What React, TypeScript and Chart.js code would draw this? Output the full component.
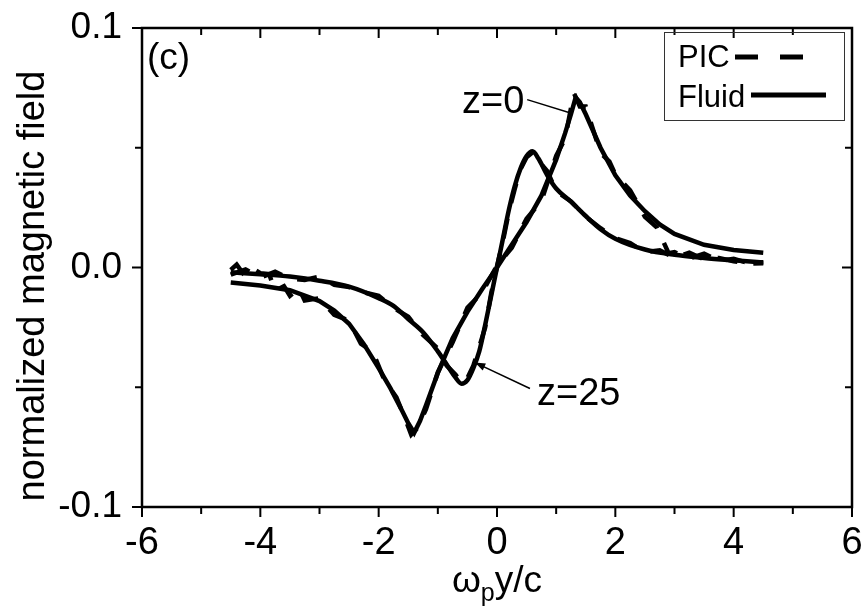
import React, { useEffect, useRef } from "react";
import { Chart, registerables } from "chart.js";

Chart.register(...registerables);

const FONT = '"Liberation Sans", Arial, Helvetica, sans-serif';

// ---- data ----
const FLUID_Z0_X = [-4.5, -4.0, -3.5, -3.0, -2.75, -2.5, -2.25, -2.0, -1.8, -1.6, -1.5, -1.4, -1.3, -1.2, -1.0, -0.75, -0.5, -0.25, 0, 0.25, 0.5, 0.75, 1.0, 1.15, 1.25, 1.33, 1.4, 1.5, 1.75, 2.0, 2.25, 2.5, 2.75, 3.0, 3.5, 4.0, 4.5];
const FLUID_Z0_Y = [-0.0063, -0.0075, -0.0095, -0.014, -0.018, -0.0235, -0.032, -0.042, -0.0505, -0.06, -0.065, -0.069, -0.064, -0.0575, -0.044, -0.0295, -0.0185, -0.009, 0, 0.0095, 0.019, 0.03, 0.045, 0.056, 0.064, 0.071, 0.069, 0.064, 0.05, 0.0385, 0.03, 0.0235, 0.018, 0.014, 0.0095, 0.0073, 0.0062];

const FLUID_Z25_X = [-4.5, -4.0, -3.5, -3.0, -2.5, -2.0, -1.75, -1.5, -1.25, -1.0, -0.85, -0.7, -0.6, -0.5, -0.4, -0.3, -0.2, -0.1, 0, 0.1, 0.2, 0.3, 0.4, 0.5, 0.6, 0.7, 0.85, 1.0, 1.25, 1.5, 1.75, 2.0, 2.5, 3.0, 3.5, 4.0, 4.5];
const FLUID_Z25_Y = [-0.002, -0.0028, -0.0038, -0.0055, -0.008, -0.0128, -0.016, -0.0215, -0.027, -0.035, -0.0405, -0.046, -0.0485, -0.047, -0.042, -0.035, -0.024, -0.012, 0, 0.012, 0.024, 0.034, 0.0415, 0.0465, 0.0485, 0.0455, 0.0385, 0.033, 0.0275, 0.0215, 0.016, 0.012, 0.0075, 0.0053, 0.004, 0.003, 0.0021];

const PIC_Z0_X = [-4.5, -4.4, -4.3, -4.2, -4.0, -3.85, -3.75, -3.6, -3.5, -3.35, -3.25, -3.0, -2.75, -2.5, -2.3, -2.1, -1.9, -1.7, -1.55, -1.45, -1.35, -1.2, -1.0, -0.75, -0.5, -0.25, 0, 0.25, 0.5, 0.75, 1.0, 1.15, 1.3, 1.4, 1.5, 1.75, 1.9, 2.0, 2.25, 2.5, 2.7, 2.9, 3.0, 3.25, 3.5, 3.75, 4.0, 4.25, 4.5];
const PIC_Z0_Y = [-0.001, 0.0012, -0.0022, 0.0006, -0.0024, -0.0028, -0.0098, -0.0078, -0.0118, -0.0086, -0.0138, -0.0128, -0.0198, -0.0222, -0.0318, -0.0352, -0.0472, -0.0542, -0.0632, -0.0698, -0.0672, -0.0592, -0.0438, -0.0312, -0.0168, -0.0104, 0.0008, 0.0082, 0.0204, 0.0278, 0.0466, 0.0538, 0.0728, 0.0672, 0.0672, 0.0478, 0.0442, 0.0388, 0.0322, 0.0212, 0.0168, 0.006, 0.0064, 0.0038, 0.0058, 0.0028, 0.0036, 0.0018, 0.0022];

const PIC_Z25_X = [-4.5, -4.25, -4.0, -3.75, -3.5, -3.25, -3.0, -2.75, -2.5, -2.25, -2.0, -1.75, -1.5, -1.25, -1.0, -0.85, -0.7, -0.6, -0.5, -0.4, -0.3, -0.2, -0.1, 0, 0.1, 0.2, 0.3, 0.4, 0.5, 0.6, 0.7, 0.85, 1.0, 1.25, 1.5, 1.75, 2.0, 2.25, 2.5, 2.75, 3.0, 3.25, 3.5, 3.75, 4.0, 4.25, 4.5];
const PIC_Z25_Y = [-0.003, -0.0008, -0.0042, -0.0018, -0.0046, -0.0052, -0.0038, -0.0072, -0.0082, -0.0104, -0.0118, -0.0168, -0.0206, -0.0282, -0.0338, -0.041, -0.0448, -0.0482, -0.0462, -0.041, -0.0332, -0.025, -0.011, 0.0005, 0.011, 0.0232, 0.0328, 0.0412, 0.046, 0.048, 0.0446, 0.0402, 0.0318, 0.0276, 0.0212, 0.0164, 0.0122, 0.0102, 0.0064, 0.0072, 0.004, 0.0062, 0.0034, 0.004, 0.0026, 0.0016, 0.0018];

const X_TICK_VALUES = [-6, -5, -4, -3, -2, -1, 0, 1, 2, 3, 4, 5, 6];
const Y_TICK_VALUES = [-0.1, -0.05, 0, 0.05, 0.1];
const LEGEND_LABELS = ["PIC", "Fluid"];
const PANEL_LABEL = "(c)";
const Y_TITLE = "normalized magnetic field";

const pts = (xs: number[], ys: number[]) => xs.map((x, i) => ({ x, y: ys[i] }));

const framePlugin = {
  id: "framePlugin",
  afterDraw(chart: any) {
    const { ctx, chartArea: a, scales } = chart;
    const xs = scales.x;
    const ys = scales.y;
    ctx.save();
    ctx.strokeStyle = "#000";
    ctx.fillStyle = "#000";
    ctx.lineWidth = 2.5;
    ctx.strokeRect(a.left, a.top, a.right - a.left, a.bottom - a.top);

    ctx.lineWidth = 2;
    X_TICK_VALUES.forEach((v) => {
      const px = xs.getPixelForValue(v);
      const major = v % 2 === 0;
      const len = major ? 10 : 7;
      ctx.beginPath();
      ctx.moveTo(px, a.bottom);
      ctx.lineTo(px, a.bottom + len);
      ctx.moveTo(px, a.top);
      ctx.lineTo(px, a.top + len);
      ctx.stroke();
    });
    Y_TICK_VALUES.forEach((v) => {
      const py = ys.getPixelForValue(v);
      const major = Math.abs(Math.round(v * 10) - v * 10) < 1e-6;
      const len = major ? 10 : 7;
      ctx.beginPath();
      ctx.moveTo(a.left, py);
      ctx.lineTo(a.left - len, py);
      ctx.moveTo(a.right, py);
      ctx.lineTo(a.right - len, py);
      ctx.stroke();
    });

    ctx.font = `37px ${FONT}`;
    ctx.textAlign = "left";
    ctx.textBaseline = "alphabetic";
    ctx.fillText(PANEL_LABEL, a.left + 5, a.top + 41);

    ctx.font = `38px ${FONT}`;
    ctx.fillText("z=0", xs.getPixelForValue(-0.59), ys.getPixelForValue(0.0647));
    ctx.fillText("z=25", xs.getPixelForValue(0.676), ys.getPixelForValue(-0.0576));
    ctx.lineWidth = 1.5;
    ctx.beginPath();
    ctx.moveTo(xs.getPixelForValue(0.51), ys.getPixelForValue(0.0701));
    ctx.lineTo(xs.getPixelForValue(1.27), ys.getPixelForValue(0.0643));
    ctx.stroke();
    const ax0 = xs.getPixelForValue(0.557), ay0 = ys.getPixelForValue(-0.0505);
    const ax1 = xs.getPixelForValue(-0.372), ay1 = ys.getPixelForValue(-0.0397);
    ctx.beginPath();
    ctx.moveTo(ax0, ay0);
    ctx.lineTo(ax1, ay1);
    ctx.stroke();
    const ang = Math.atan2(ay1 - ay0, ax1 - ax0);
    ctx.beginPath();
    ctx.moveTo(ax1, ay1);
    ctx.lineTo(ax1 - 11 * Math.cos(ang - 0.35), ay1 - 11 * Math.sin(ang - 0.35));
    ctx.lineTo(ax1 - 11 * Math.cos(ang + 0.35), ay1 - 11 * Math.sin(ang + 0.35));
    ctx.closePath();
    ctx.fill();

    const lx = a.right - 188, ly = a.top + 4;
    ctx.lineWidth = 1;
    ctx.strokeStyle = "#333";
    ctx.strokeRect(lx + 0.5, ly + 0.5, 180, 88);
    ctx.strokeStyle = "#000";
    ctx.font = `31px ${FONT}`;
    ctx.fillText(LEGEND_LABELS[0], lx + 14, ly + 35);
    ctx.fillText(LEGEND_LABELS[1], lx + 14, ly + 75);
    ctx.lineWidth = 5;
    ctx.setLineDash([23, 22]);
    ctx.beginPath();
    ctx.moveTo(lx + 71, ly + 25);
    ctx.lineTo(lx + 139, ly + 25);
    ctx.stroke();
    ctx.setLineDash([]);
    ctx.beginPath();
    ctx.moveTo(lx + 87, ly + 63);
    ctx.lineTo(lx + 162, ly + 63);
    ctx.stroke();

    ctx.save();
    ctx.font = `38px ${FONT}`;
    ctx.translate(44, 286);
    ctx.rotate(-Math.PI / 2);
    ctx.textAlign = "center";
    ctx.textBaseline = "alphabetic";
    ctx.fillText(Y_TITLE, 0, 0);
    ctx.restore();

    ctx.textAlign = "left";
    ctx.textBaseline = "alphabetic";
    const big = `37px ${FONT}`;
    const small = `25px ${FONT}`;
    ctx.font = big;
    const w1 = ctx.measureText("\u03c9").width;
    const w3 = ctx.measureText("y/c").width;
    ctx.font = small;
    const w2 = ctx.measureText("p").width;
    const total = w1 + w2 + w3;
    let sx = (a.left + a.right) / 2 - total / 2;
    const base = 592;
    ctx.font = big;
    ctx.fillText("\u03c9", sx, base);
    sx += w1;
    ctx.font = small;
    ctx.fillText("p", sx, base + 9);
    sx += w2;
    ctx.font = big;
    ctx.fillText("y/c", sx, base);
    ctx.restore();
  },
};

export default function App() {
  const ref = useRef<HTMLCanvasElement | null>(null);
  useEffect(() => {
    if (!ref.current) return;
    const common = { borderColor: "#000", pointRadius: 0, fill: false };
    const chart = new Chart(ref.current, {
      type: "line",
      data: {
        datasets: [
          { ...common, label: "PIC z=0", data: pts(PIC_Z0_X, PIC_Z0_Y), borderWidth: 4.5, borderDash: [20, 16], tension: 0 },
          { ...common, label: "PIC z=25", data: pts(PIC_Z25_X, PIC_Z25_Y), borderWidth: 4.5, borderDash: [20, 16], tension: 0 },
          { ...common, label: "Fluid z=0", data: pts(FLUID_Z0_X, FLUID_Z0_Y), borderWidth: 4.5, tension: 0 },
          { ...common, label: "Fluid z=25", data: pts(FLUID_Z25_X, FLUID_Z25_Y), borderWidth: 4.5, cubicInterpolationMode: "monotone" },
        ],
      },
      options: {
        animation: false,
        responsive: false,
        devicePixelRatio: 1,
        layout: { padding: { top: 28, right: 11, left: 0, bottom: 0 } },
        plugins: { legend: { display: false }, tooltip: { enabled: false } },
        scales: {
          x: {
            type: "linear",
            min: -6,
            max: 6,
            grid: { display: false },
            border: { display: false },
            ticks: {
              stepSize: 2,
              color: "#000",
              padding: 6,
              maxRotation: 0,
              font: { family: FONT, size: 38 },
            },
            afterFit: (s: any) => {
              s.height = 100;
              s.paddingLeft = 0;
              s.paddingRight = 0;
              s.paddingTop = 0;
              s.paddingBottom = 0;
            },
          },
          y: {
            type: "linear",
            min: -0.1,
            max: 0.1,
            grid: { display: false },
            border: { display: false },
            ticks: {
              stepSize: 0.1,
              color: "#000",
              padding: 12,
              font: { family: FONT, size: 37 },
              callback: (v: any) => Number(v).toFixed(1),
            },
            afterFit: (s: any) => {
              s.width = 142;
              s.paddingLeft = 0;
              s.paddingRight = 0;
              s.paddingTop = 0;
              s.paddingBottom = 0;
            },
          },
        },
      },
      plugins: [framePlugin],
    } as any);
    return () => chart.destroy();
  }, []);
  return (
    <div style={{ position: "fixed", left: 0, top: 0, width: 863, height: 607, background: "#fff" }}>
      <canvas ref={ref} width={863} height={607} />
    </div>
  );
}
